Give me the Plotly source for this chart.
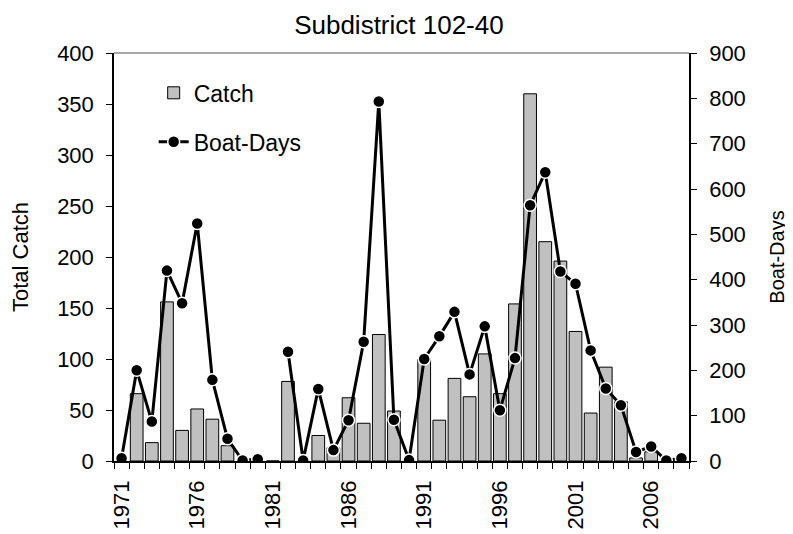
import plotly.graph_objects as go

years = [str(y) for y in range(1971, 2009)]
catch = [0, 66, 18, 156, 30, 51, 41, 15, 0, 0, 0, 78, 0, 25, 13, 62, 37, 124, 49,
         0, 100, 40, 81, 63, 105, 66, 154, 360, 215, 196, 127, 47, 92, 58, 3, 9, 0, 0]
boat_days = [6, 200, 87, 420, 348, 524, 179, 49, 1, 4, None, 241, 1, 159, 24, 90, 263, 793, 91,
             2, 225, 275, 329, 191, 297, 112, 227, 564, 637, 418, 391, 244, 160, 123, 20, 32, 1, 6]
tick_labels = [y if (int(y) - 1971) % 5 == 0 else "" for y in years]

FONT = "Liberation Sans, Arial, sans-serif"

fig = go.Figure()
fig.add_trace(go.Bar(
    x=years, y=catch, name="Catch", legendgroup="a",
    marker=dict(color="#C0C0C0", line=dict(color="black", width=1)),
))
fig.add_trace(go.Scatter(
    x=years, y=boat_days, name="Boat-Days", yaxis="y2", legendgroup="b",
    mode="lines+markers", connectgaps=False,
    line=dict(color="black", width=3),
    marker=dict(color="black", size=12, line=dict(color="white", width=1.5)),
))

fig.update_layout(
    width=785, height=526,
    margin=dict(l=106, r=104, t=45, b=73),
    paper_bgcolor="white", plot_bgcolor="white",
    font=dict(family=FONT, color="black", size=22),
    bargap=0.16,
    title=dict(text="Subdistrict 102-40", x=0.498, xanchor="center",
               y=0.968, yanchor="middle", font=dict(size=26)),
    showlegend=True,
    legend=dict(x=0.069, y=0.955, xanchor="left", yanchor="top",
                bgcolor="rgba(0,0,0,0)", font=dict(size=23),
                tracegroupgap=16),
    xaxis=dict(type="category", categoryorder="array", categoryarray=years,
               range=[-0.5, len(years) - 0.5],
               tickmode="array", tickvals=years, ticktext=tick_labels,
               tickangle=-90, tickson="boundaries", ticks="outside", ticklen=6,
               tickcolor="black", showline=True, linecolor="black", linewidth=1.5,
               showgrid=False, zeroline=False, automargin=False,
               ticklabelstandoff=9, tickfont=dict(size=22)),
    yaxis=dict(range=[0, 400], dtick=50, ticks="outside", ticklen=6, tickcolor="black",
               showline=True, linecolor="black", linewidth=1.5, showgrid=False,
               zeroline=False, automargin=False, ticklabelstandoff=8,
               tickfont=dict(size=22),
               title=dict(text="Total Catch", font=dict(size=22), standoff=29)),
    yaxis2=dict(range=[0, 900], dtick=100, overlaying="y", side="right",
                ticks="outside", ticklen=6, tickcolor="black",
                showline=True, linecolor="black", linewidth=1.5, showgrid=False,
                zeroline=False, automargin=False, ticklabelstandoff=8,
                tickfont=dict(size=22),
                title=dict(text="Boat-Days", font=dict(size=20), standoff=25)),
    shapes=[dict(type="line", xref="paper", yref="paper", x0=0, x1=1, y0=1, y1=1,
                 line=dict(color="#888888", width=1.5))],
)

fig.write_html("out.html")
